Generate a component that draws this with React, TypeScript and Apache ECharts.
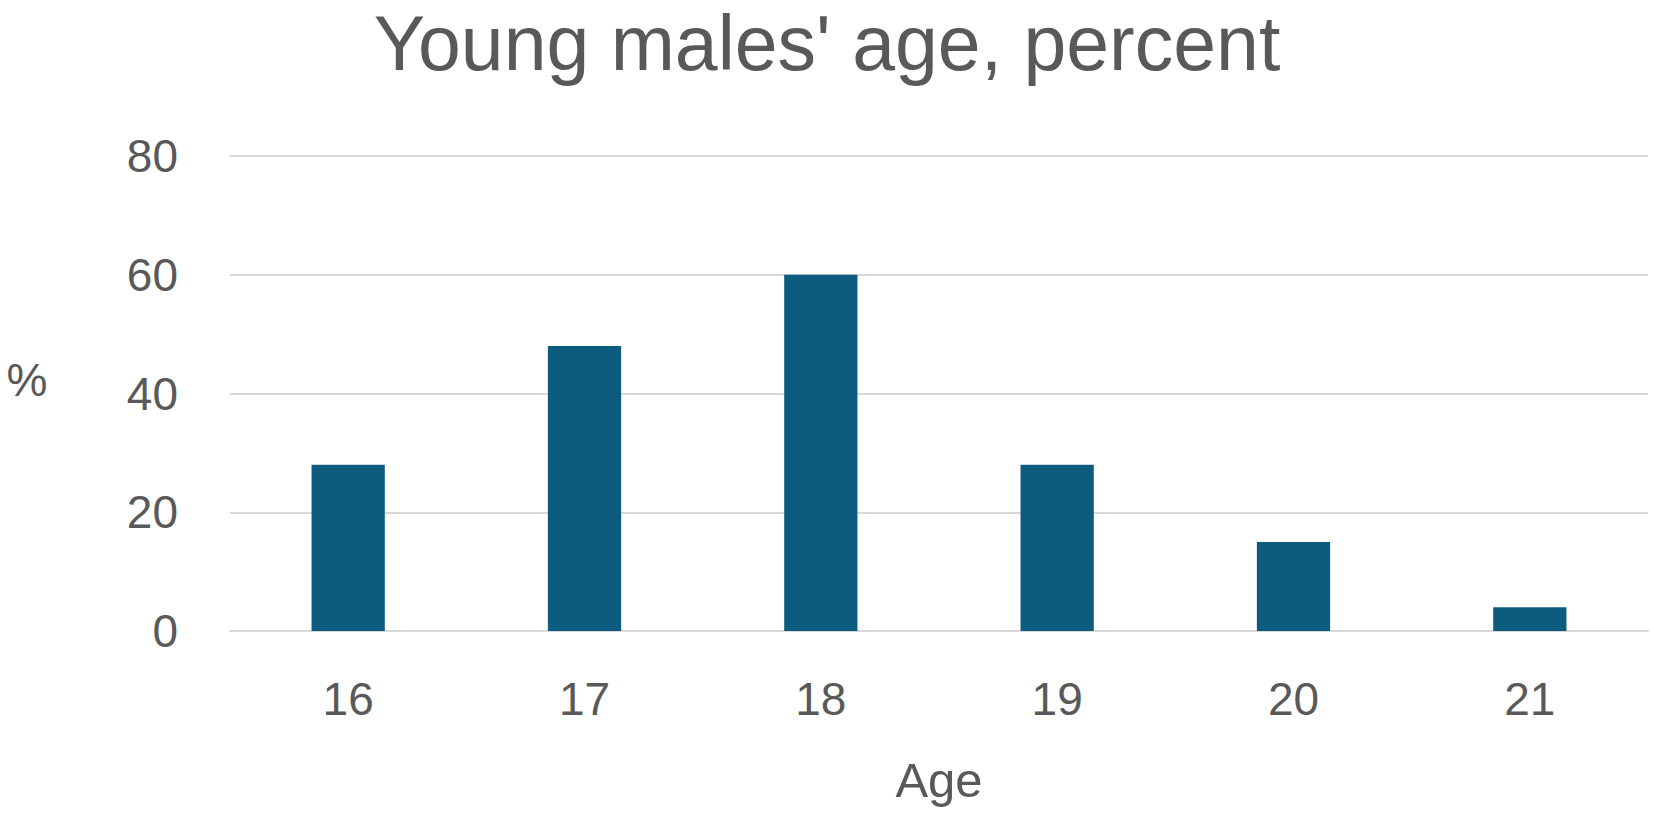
import React, { useEffect, useRef } from "react";
import * as echarts from "echarts";

const titleText = "Young males' age, percent";
const ages = ["16", "17", "18", "19", "20", "21"];
const percents = [28, 48, 60, 28, 15, 4];
const yTicks = [0, 20, 40, 60, 80];
const xAxisName = "Age";
const yAxisName = "%";

export default function App() {
  const ref = useRef<HTMLDivElement>(null);
  useEffect(() => {
    if (!ref.current) return;
    const chart = echarts.init(ref.current, null, { renderer: "svg" });
    const font = "'Liberation Sans', Arial, sans-serif";
    const grey = "#595959";
    chart.setOption({
      animation: false,
      backgroundColor: "#ffffff",
      title: {
        text: titleText,
        left: "center",
        top: 1,
        padding: 0,
        textStyle: {
          fontFamily: font,
          fontSize: 77,
          lineHeight: 84,
          fontWeight: "normal",
          color: grey,
        },
      },
      grid: { left: 230, right: 6, top: 156, bottom: 195, containLabel: false },
      xAxis: {
        type: "category",
        data: ages,
        name: xAxisName,
        nameLocation: "middle",
        nameGap: 124,
        nameTextStyle: { fontFamily: font, fontSize: 49, color: grey },
        axisLine: { show: true, lineStyle: { color: "#d9d9d9", width: 2 } },
        axisTick: { show: false },
        axisLabel: { fontFamily: font, fontSize: 46, color: grey, margin: 45 },
      },
      yAxis: {
        type: "value",
        min: yTicks[0],
        max: yTicks[yTicks.length - 1],
        interval: 20,
        axisLine: { show: false },
        axisTick: { show: false },
        axisLabel: { fontFamily: font, fontSize: 46, color: grey, margin: 52 },
        splitLine: { lineStyle: { color: "#d9d9d9", width: 2 } },
      },
      graphic: [
        {
          type: "text",
          x: 27,
          y: 380,
          style: {
            text: yAxisName,
            font: `46px ${font}`,
            fill: grey,
            textAlign: "center",
            textVerticalAlign: "middle",
          },
        },
      ],
      series: [
        {
          type: "bar",
          data: percents,
          barWidth: "31%",
          itemStyle: { color: "#0d5c80" },
        },
      ],
    });
    return () => chart.dispose();
  }, []);
  return (
    <div
      ref={ref}
      style={{ position: "fixed", left: 0, top: 0, width: 1654, height: 826 }}
    />
  );
}
